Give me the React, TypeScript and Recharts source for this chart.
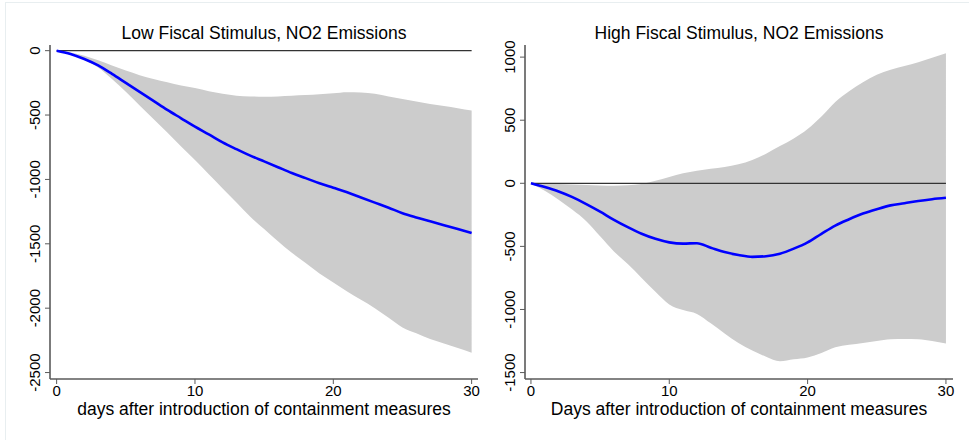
import React from "react";
import {
  ComposedChart,
  Area,
  Line,
  XAxis,
  YAxis,
  ReferenceLine,
} from "recharts";

const days = [
  0, 1, 2, 3, 4, 5, 6, 7, 8, 9, 10, 11, 12, 13, 14, 15, 16, 17, 18, 19, 20,
  21, 22, 23, 24, 25, 26, 27, 28, 29, 30,
];

// Low fiscal stimulus
const lowMean = [
  0, -25, -65, -115, -180, -250, -320, -390, -460, -525, -590, -650, -712,
  -765, -815, -860, -905, -950, -990, -1030, -1065, -1100, -1140, -1180, -1220,
  -1262, -1295, -1325, -1355, -1385, -1416,
];
const lowUpper = [
  0, -15, -40, -75, -115, -155, -190, -220, -245, -270, -290, -315, -335, -350,
  -355, -358, -355, -350, -345, -338, -330, -322, -325, -335, -355, -375, -395,
  -415, -430, -447, -465,
];
const lowLower = [
  0, -25, -70, -130, -220, -320, -425, -530, -635, -745, -850, -960, -1070,
  -1180, -1290, -1385, -1480, -1570, -1650, -1730, -1800, -1870, -1935, -2000,
  -2075, -2150, -2195, -2240, -2275, -2310, -2347,
];

// High fiscal stimulus
const highMean = [
  0, -30, -65, -110, -165, -225, -290, -348, -400, -440, -468, -478, -475,
  -510, -545, -568, -583, -578, -558, -518, -468, -400, -335, -285, -240, -205,
  -175, -158, -140, -126, -115,
];
const highUpper = [
  0, -3, -6, -10, -14, -17, -19, -16, -6, 20, 50, 80, 100, 115, 130, 150, 185,
  235, 295, 355, 430, 530, 645, 730, 800, 860, 900, 930, 960, 995, 1030,
];
const highLower = [
  0, -60, -130, -210, -300, -420, -540, -640, -750, -860, -960, -1005, -1035,
  -1110, -1190, -1265, -1325, -1375, -1410, -1395, -1380, -1345, -1300, -1280,
  -1265, -1250, -1235, -1233, -1235, -1250, -1270,
];

const lowTicks = [0, -500, -1000, -1500, -2000, -2500];
const highTicks = [1000, 500, 0, -500, -1000, -1500];
const xTicks = [0, 10, 20, 30];

const FONT = '"Liberation Sans", Arial, sans-serif';
const AXIS = "#5a5a5a";

const buildRows = (mean: number[], lower: number[], upper: number[]) =>
  days.map((d, i) => ({ day: d, mean: mean[i], band: [lower[i], upper[i]] }));

const VerticalTick = (props: any) => {
  const { x, y, payload } = props;
  return (
    <text
      x={x}
      y={y}
      transform={`rotate(-90 ${x} ${y})`}
      textAnchor="middle"
      fontSize={15}
      fontFamily={FONT}
      fill="#000"
    >
      {payload.value}
    </text>
  );
};

interface PanelProps {
  title: string;
  xLabel: string;
  rows: { day: number; mean: number; band: number[] }[];
  yDomain: [number, number];
  yTicks: number[];
  xDomain: [number, number];
  left: number;
  width: number;
  marginLeft: number;
  marginRight: number;
}

function Panel({
  title,
  xLabel,
  rows,
  yDomain,
  yTicks,
  xDomain,
  left,
  width,
  marginLeft,
  marginRight,
}: PanelProps) {
  const plotCenter = marginLeft + 40 + (width - marginLeft - 40 - marginRight) / 2;
  return (
    <div style={{ position: "absolute", left, top: 0, width, height: 440 }}>
      <div
        style={{
          position: "absolute",
          left: 0,
          width: plotCenter * 2,
          top: 22,
          lineHeight: "22px",
          textAlign: "center",
          fontFamily: FONT,
          fontSize: 17.5,
          color: "#000",
          whiteSpace: "nowrap",
        }}
      >
        {title}
      </div>
      <ComposedChart
        width={width}
        height={440}
        data={rows}
        margin={{ top: 45, right: marginRight, bottom: 31, left: marginLeft }}
      >
        <XAxis
          dataKey="day"
          type="number"
          domain={xDomain}
          ticks={xTicks}
          allowDataOverflow
          height={30}
          tickSize={5}
          tickMargin={1}
          tick={{ fontSize: 15, fontFamily: FONT, fill: "#000" }}
          axisLine={{ stroke: AXIS, strokeWidth: 1.6 }}
          tickLine={{ stroke: AXIS, strokeWidth: 1 }}
        />
        <YAxis
          type="number"
          domain={yDomain}
          ticks={yTicks}
          allowDataOverflow
          width={40}
          tickSize={5}
          tickMargin={5}
          tick={<VerticalTick />}
          axisLine={{ stroke: AXIS, strokeWidth: 1.6 }}
          tickLine={{ stroke: AXIS, strokeWidth: 1 }}
        />
        <Area
          type="monotone"
          dataKey="band"
          stroke="none"
          fill="#cccccc"
          fillOpacity={1}
          isAnimationActive={false}
          dot={false}
          activeDot={false}
        />
        <ReferenceLine
          segment={[
            { x: 0, y: 0 },
            { x: 30, y: 0 },
          ]}
          stroke="#333"
          strokeWidth={1.2}
        />
        <Line
          type="monotone"
          dataKey="mean"
          stroke="#0000ff"
          strokeWidth={2.6}
          dot={false}
          activeDot={false}
          isAnimationActive={false}
        />
      </ComposedChart>
      <div
        style={{
          position: "absolute",
          left: 0,
          width: plotCenter * 2,
          top: 401,
          lineHeight: "16px",
          textAlign: "center",
          fontFamily: FONT,
          fontSize: 17.5,
          color: "#000",
          whiteSpace: "nowrap",
        }}
      >
        {xLabel}
      </div>
    </div>
  );
}

export default function App() {
  return (
    <div
      style={{
        position: "absolute",
        left: 0,
        top: 0,
        width: 969,
        height: 440,
        background: "#fff",
        overflow: "hidden",
      }}
    >
      <div
        style={{
          position: "absolute",
          left: 5,
          top: 2,
          width: 970,
          height: 450,
          borderLeft: "1px solid #e8eef0",
          borderTop: "1px solid #e8eef0",
        }}
      />
      <Panel
        title="Low Fiscal Stimulus, NO2 Emissions"
        xLabel="days after introduction of containment measures"
        rows={buildRows(lowMean, lowLower, lowUpper)}
        yDomain={[-2550, 44]}
        yTicks={lowTicks}
        xDomain={[-0.48, 30.46]}
        left={0}
        width={480}
        marginLeft={10}
        marginRight={2}
      />
      <Panel
        title="High Fiscal Stimulus, NO2 Emissions"
        xLabel="Days after introduction of containment measures"
        rows={buildRows(highMean, highLower, highUpper)}
        yDomain={[-1551, 1096]}
        yTicks={highTicks}
        xDomain={[-0.43, 30.51]}
        left={480}
        width={489}
        marginLeft={5}
        marginRight={16}
      />
    </div>
  );
}
